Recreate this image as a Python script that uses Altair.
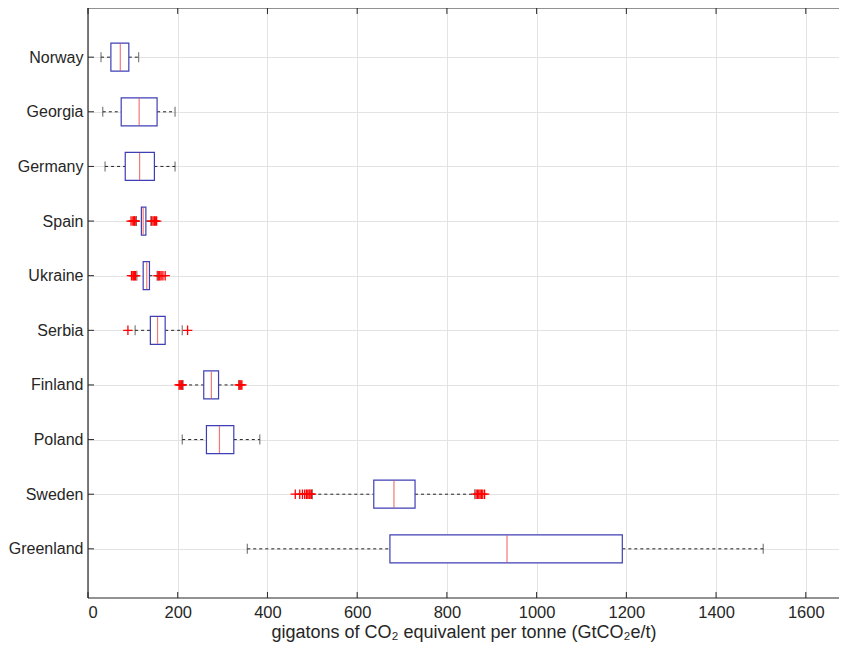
import altair as alt
import pandas as pd

cats = ["Norway", "Georgia", "Germany", "Spain", "Ukraine", "Serbia",
        "Finland", "Poland", "Sweden", "Greenland"]
wlo = [29, 33, 38, 108, 109, 105, 212, 210, 500, 355]
q1 = [51, 74, 83, 119, 123, 139, 258, 264, 637, 673]
med = [72, 114, 115, 123, 131, 155, 275, 293, 682, 934]
q3 = [91, 154, 148, 129, 137, 172, 291, 325, 729, 1191]
whi = [113, 194, 194, 140, 154, 210, 336, 383, 862, 1505]

out_cat = (["Spain"] * 10 + ["Ukraine"] * 11 + ["Serbia"] * 2 +
           ["Finland"] * 9 + ["Sweden"] * 16)
out_val = ([96, 100, 102, 104, 105, 142, 145, 148, 150, 153] +
           [97, 100, 102, 104, 106, 156, 158, 160, 163, 167, 172] +
           [89, 222] +
           [203, 205, 207, 209, 210, 337, 339, 341, 343] +
           [462, 472, 478, 483, 487, 490, 493, 495, 498,
            865, 868, 871, 874, 877, 880, 884])

xticks = [0, 200, 400, 600, 800, 1000, 1200, 1400, 1600]
XMAX = 1674

W, H = 751, 590
FONT = "Liberation Sans"
TXT = "#262626"

df = pd.DataFrame({"cat": cats, "wlo": wlo, "q1": q1, "med": med, "q3": q3, "whi": whi})
odf = pd.DataFrame({"cat": out_cat, "v": out_val})
tdf = pd.DataFrame({"t": xticks})
cdf = pd.DataFrame({"cat": cats})

yscale = alt.Scale(type="point", padding=0.9, domain=cats)
xscale = alt.Scale(domain=[0, XMAX], nice=False)

Y = alt.Y("cat:N", scale=yscale, sort=cats, title=None,
          axis=alt.Axis(grid=True, ticks=False, domain=False, labelPadding=5,
                        labelFontSize=16, labelColor=TXT, labelFont=FONT,
                        gridColor="#e3e3e3"))
Xax = alt.Axis(values=xticks, format="d", grid=True, ticks=False, domain=False,
               labelPadding=6, labelFontSize=16.5, labelColor=TXT, labelFont=FONT,
               gridColor="#e3e3e3",
               title="gigatons of CO\u2082 equivalent per tonne (GtCO\u2082e/t)",
               titleFontSize=18, titleFont=FONT, titleColor=TXT,
               titleFontWeight="normal", titlePadding=3)

base = alt.Chart(df)
Yp = alt.Y("cat:N", scale=yscale, sort=cats)

wl = base.mark_rule(color="#222222", strokeDash=[3, 3], strokeWidth=1).encode(
    x=alt.X("wlo:Q", scale=xscale, axis=Xax), x2="q1:Q", y=Y)
wh = base.mark_rule(color="#222222", strokeDash=[3, 3], strokeWidth=1).encode(
    x=alt.X("q3:Q", scale=xscale), x2="whi:Q", y=Yp)
capl = base.mark_tick(color="#222222", size=10, thickness=1).encode(
    x=alt.X("wlo:Q", scale=xscale), y=Yp)
caph = base.mark_tick(color="#222222", size=10, thickness=1).encode(
    x=alt.X("whi:Q", scale=xscale), y=Yp)
box = base.mark_bar(fill="white", stroke="#3f3fb5", strokeWidth=1.2, size=28).encode(
    x=alt.X("q1:Q", scale=xscale), x2="q3:Q", y=Yp)
medm = base.mark_tick(color="#e8413c", size=27, thickness=1.2).encode(
    x=alt.X("med:Q", scale=xscale), y=Yp)
outs = alt.Chart(odf).mark_point(
    shape="M-1,0L1,0M0,-1L0,1", filled=False, color="#ff0000", strokeWidth=1.3,
    size=90, opacity=1).encode(
    x=alt.X("v:Q", scale=xscale), y=Yp)

tb = alt.Chart(tdf).mark_rule(color=TXT, strokeWidth=1).encode(
    x=alt.X("t:Q", scale=xscale), y=alt.value(H), y2=alt.value(H - 6))
tt = alt.Chart(tdf).mark_rule(color=TXT, strokeWidth=1).encode(
    x=alt.X("t:Q", scale=xscale), y=alt.value(0), y2=alt.value(6))
tl = alt.Chart(cdf).mark_rule(color=TXT, strokeWidth=1).encode(
    y=Yp, x=alt.value(0), x2=alt.value(6))

# frame: left, top, bottom (right edge is off-canvas in the original)
fl = alt.Chart(cdf.head(1)).mark_rule(color=TXT, strokeWidth=1.2).encode(
    x=alt.value(0), y=alt.value(0), y2=alt.value(H))
ft = alt.Chart(cdf.head(1)).mark_rule(color=TXT, strokeWidth=1.2).encode(
    x=alt.value(0), x2=alt.value(W), y=alt.value(0))
fb = alt.Chart(cdf.head(1)).mark_rule(color=TXT, strokeWidth=1.2).encode(
    x=alt.value(0), x2=alt.value(W), y=alt.value(H))

chart = alt.layer(wl, wh, capl, caph, box, medm, outs, tb, tt, tl, fl, ft, fb).properties(
    width=W, height=H,
    autosize=alt.AutoSizeParams(type="none"),
    padding={"left": 80, "top": 0, "right": 0, "bottom": 49},
    background="white",
).configure_view(stroke=None)

chart.save("out.html", embed_options={"renderer": "svg", "actions": False})
